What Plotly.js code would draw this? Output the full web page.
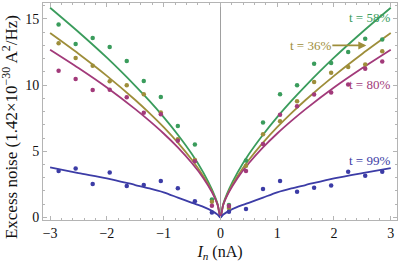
<!DOCTYPE html>
<html>
<head>
<meta charset="utf-8">
<script src="https://cdn.plot.ly/plotly-3.0.1.min.js"></script>
<style>html,body{margin:0;padding:0;background:#fff;}#chart{width:399px;height:262px;}</style>
</head>
<body>
<div id="chart"></div>
<script>
// Measured points (current In in nA)
const currentPoints = [-2.85,-2.55,-2.25,-1.95,-1.65,-1.35,-1.05,-0.75,-0.45,-0.15,0.15,0.45,0.75,1.05,1.35,1.65,1.95,2.25,2.55,2.85];
const noise58 = [14.57,13.1,13.54,12.86,11.81,10.3,9.1,6.9,5.5,1.35,0.95,4.3,7.17,9.3,9.98,11.6,11.66,12.49,13.49,13.44];
const noise36 = [13.16,12.03,11.46,10.28,9.98,9.3,7.92,5.9,4.33,1.19,0.72,3.9,6.29,7.27,8.77,10.23,10.93,11.36,11.54,12.54];
const noise80 = [11.08,10.45,9.62,9.65,9.07,7.9,7.8,5.8,4.25,0.89,0.87,3.5,5.55,7.75,8.4,9.28,9.43,10.03,11.23,11.78];
const noise99 = [3.5,3.7,2.52,3.4,2.37,2.45,2.75,2.2,1.22,0.37,0.44,0.64,2.15,2.75,1.95,2.25,2.42,3.45,3.15,3.45];

// Fit curves, values
const curveX = [-3,-2.5,-2,-1.5,-1.25,-1,-0.75,-0.5,-0.3,-0.15,-0.05,0,0.05,0.15,0.3,0.5,0.75,1,1.25,1.5,2,2.5,3];
const fit58 = [15.83,14.0,12.06,9.94,8.80,7.58,6.25,4.77,3.39,2.12,1.02,0,1.02,2.12,3.39,4.77,6.25,7.58,8.80,9.94,12.06,14.0,15.83];
const fit36 = [13.92,12.36,10.69,8.87,7.88,6.82,5.65,4.34,3.12,1.99,0.97,0,0.97,1.99,3.12,4.34,5.65,6.82,7.88,8.87,10.69,12.36,13.92];
const fit80 = [12.66,11.28,9.81,8.18,7.29,6.34,5.29,4.09,2.97,1.91,0.96,0,0.96,1.91,2.97,4.09,5.29,6.34,7.29,8.18,9.81,11.28,12.66];
const fit99 = [3.78,3.35,2.95,2.45,2.2,1.9,1.5,1.1,0.8,0.5,0.22,0,0.22,0.5,0.8,1.1,1.5,1.9,2.2,2.45,2.95,3.35,3.72];

const seriesLabels = ['t = 58%','t = 36%','t = 80%','t = 99%'];
const colors = ['#3a9c5c','#9e8e3a','#a23a7a','#3c3ca6'];

const pts = [noise58, noise36, noise80, noise99];
const fits = [fit58, fit36, fit80, fit99];
const traces = [];
fits.forEach((f,i)=>traces.push({x:curveX,y:f,mode:'lines',type:'scatter',line:{color:colors[i],width:1.8,shape:'spline',smoothing:0.8},hoverinfo:'skip',showlegend:false}));
pts.forEach((p,i)=>traces.push({x:currentPoints,y:p,mode:'markers',type:'scatter',marker:{color:colors[i],size:4.5},name:seriesLabels[i],showlegend:false}));

const serif = 'Liberation Serif, Times New Roman, serif';
const axisCommon = {
  showgrid:false, showline:true, mirror:'allticks', linecolor:'#b4b4b4', linewidth:1,
  ticks:'inside', ticklen:4, tickcolor:'#b4b4b4', tickwidth:1,
  tickfont:{family:serif,size:14,color:'#111'}
};
const layout = {
  width:399, height:262,
  margin:{l:43,r:2,t:3,b:42},
  paper_bgcolor:'#fff', plot_bgcolor:'#fff',
  showlegend:false,
  xaxis:Object.assign({}, axisCommon, {
    range:[-3.125,3.11], tickvals:[-3,-2,-1,0,1,2,3],
    minor:{dtick:0.2, tick0:0, ticklen:2, tickcolor:'#b4b4b4', ticks:'inside'},
    zeroline:true, zerolinecolor:'#a0a0a0', zerolinewidth:1,
    title:{text:'<i>I<sub>n</sub></i> (nA)', font:{family:serif,size:16,color:'#111'}, standoff:8}
  }),
  yaxis:Object.assign({}, axisCommon, {
    range:[-0.19,16.19], tickvals:[0,5,10,15],
    minor:{dtick:1, tick0:0, ticklen:2, tickcolor:'#b4b4b4', ticks:'inside'},
    zeroline:false,
    title:{text:''}
  }),
  annotations:[
    {xref:'paper',yref:'paper',x:-0.095,y:0.43,xanchor:'center',yanchor:'middle',textangle:-90,showarrow:false,
     text:'Excess noise (1.42×10<sup>−30</sup> A<sup>2</sup>/Hz)',font:{family:serif,size:17,color:'#111'}},
    {x:3.02,y:15.1,xanchor:'right',yanchor:'middle',showarrow:false,text:seriesLabels[0],font:{family:serif,size:13,color:colors[0]}},
    {x:2.57,y:12.99,ax:-56,ay:0,xanchor:'center',yanchor:'middle',showarrow:true,arrowhead:2,arrowsize:1,arrowwidth:1.6,arrowcolor:colors[1],text:seriesLabels[1],font:{family:serif,size:13,color:colors[1]}},
    {x:3.03,y:10.03,xanchor:'right',yanchor:'middle',showarrow:false,text:seriesLabels[2],font:{family:serif,size:13,color:colors[2]}},
    {x:3.03,y:4.28,xanchor:'right',yanchor:'middle',showarrow:false,text:seriesLabels[3],font:{family:serif,size:13,color:colors[3]}}
  ]
};
Plotly.newPlot('chart', traces, layout, {displayModeBar:false, staticPlot:true});
</script>
</body>
</html>
